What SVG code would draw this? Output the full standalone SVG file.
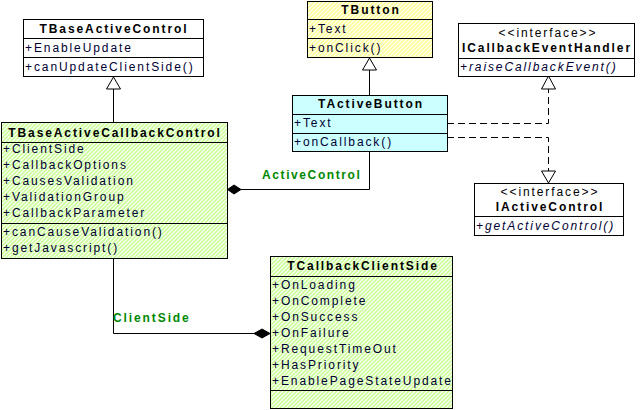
<svg xmlns="http://www.w3.org/2000/svg" width="640" height="410" viewBox="0 0 640 410">
<defs>
<pattern id="hg" width="4" height="4" patternUnits="userSpaceOnUse">
<rect width="4" height="4" fill="#ffffff"/>
<path d="M-1,5 L5,-1 M-1,1 L1,-1 M3,5 L5,3" stroke="#ccff99" stroke-width="1.6"/>
</pattern>
<pattern id="hy" width="4" height="4" patternUnits="userSpaceOnUse">
<rect width="4" height="4" fill="#ffffff"/>
<path d="M-1,5 L5,-1 M-1,1 L1,-1 M3,5 L5,3" stroke="#ffff99" stroke-width="1.6"/>
</pattern>
</defs>
<style>
text{font-family:"Liberation Sans",Arial,sans-serif;font-size:12px;letter-spacing:1.9px}
.t{font-weight:bold;text-anchor:middle;fill:#000000}
.m{fill:#000033}
.s{text-anchor:middle;fill:#000000}
.i{font-style:italic;fill:#000033}
.box{stroke:#000;stroke-width:1}
.ln{stroke:#000;stroke-width:1;fill:none}
.dash{stroke:#000;stroke-width:1;fill:none;stroke-dasharray:7,4}
.tri{fill:#fff;stroke:#000;stroke-width:1}
.dia{fill:#000;stroke:#000;stroke-width:1}
.lbl{font-weight:bold;fill:#008800}
</style>
<g id="connectors">
<path class="ln" d="M113.5,122 V89"/>
<polygon class="tri" points="113.5,77 106.5,89 120.5,89"/>
<path class="ln" d="M369.5,95 V70"/>
<polygon class="tri" points="369.5,58 362.5,70 376.5,70"/>
<path class="ln" d="M241,189.5 H369.5 V151"/>
<polygon class="dia" points="227.5,189.5 234,185 241,189.5 234,194"/>
<text class="lbl" x="262" y="179" style="letter-spacing:1.6px">ActiveControl</text>
<path class="dash" d="M447,123.5 H548.5 V89"/>
<polygon class="tri" points="548.5,76 541.5,89 555.5,89"/>
<path class="dash" d="M447,137.5 H548.5 V171"/>
<polygon class="tri" points="548.5,183 541.5,171 555.5,171"/>
<path class="ln" d="M113.5,258 V333.5 H254"/>
<polygon class="dia" points="270,333.5 262,329 254,333.5 262,338"/>
<text class="lbl" x="113" y="322">ClientSide</text>
</g>
<g id="TBaseActiveControl">
<rect class="box" x="23.5" y="19.5" width="180" height="57" fill="#ffffff"/>
<path class="ln" d="M23.5,38.5 H203.5 M23.5,57.5 H203.5"/>
<text class="t" x="114" y="33">TBaseActiveControl</text>
<text class="m" x="25" y="52">+EnableUpdate</text>
<text class="m" x="25" y="71">+canUpdateClientSide()</text>
</g>
<g id="TBaseActiveCallbackControl">
<rect class="box" x="1.5" y="122.5" width="226" height="136" fill="url(#hg)"/>
<path class="ln" d="M1.5,142.5 H227.5 M1.5,223.5 H227.5"/>
<text class="t" x="115" y="137">TBaseActiveCallbackControl</text>
<text class="m" x="3" y="153">+ClientSide</text>
<text class="m" x="3" y="169">+CallbackOptions</text>
<text class="m" x="3" y="185">+CausesValidation</text>
<text class="m" x="3" y="201">+ValidationGroup</text>
<text class="m" x="3" y="217">+CallbackParameter</text>
<text class="m" x="3" y="236">+canCauseValidation()</text>
<text class="m" x="3" y="252">+getJavascript()</text>
</g>
<g id="TButton">
<rect class="box" x="307.5" y="1.5" width="125" height="56" fill="url(#hy)"/>
<path class="ln" d="M307.5,19.5 H432.5 M307.5,38.5 H432.5"/>
<text class="t" x="371" y="14">TButton</text>
<text class="m" x="309" y="33">+Text</text>
<text class="m" x="309" y="52">+onClick()</text>
</g>
<g id="TActiveButton">
<rect class="box" x="292.5" y="95.5" width="155" height="56" fill="#ccffff"/>
<path class="ln" d="M292.5,114.5 H447.5 M292.5,133.5 H447.5"/>
<text class="t" x="371" y="108">TActiveButton</text>
<text class="m" x="294" y="127">+Text</text>
<text class="m" x="294" y="146">+onCallback()</text>
</g>
<g id="ICallbackEventHandler">
<rect class="box" x="458.5" y="23.5" width="176" height="53" fill="#ffffff"/>
<path class="ln" d="M458.5,58.5 H634.5"/>
<text class="s" x="548" y="37">&lt;&lt;interface&gt;&gt;</text>
<text class="t" x="547" y="52">ICallbackEventHandler</text>
<text class="i" x="460" y="71">+raiseCallbackEvent()</text>
</g>
<g id="IActiveControl">
<rect class="box" x="474.5" y="183.5" width="149" height="52" fill="#ffffff"/>
<path class="ln" d="M474.5,216.5 H623.5"/>
<text class="s" x="550" y="196">&lt;&lt;interface&gt;&gt;</text>
<text class="t" x="550" y="211">IActiveControl</text>
<text class="i" x="476" y="230">+getActiveControl()</text>
</g>
<g id="TCallbackClientSide">
<rect class="box" x="270.5" y="256.5" width="182" height="152" fill="url(#hg)"/>
<path class="ln" d="M270.5,276.5 H452.5 M270.5,390.5 H452.5"/>
<text class="t" x="363" y="270">TCallbackClientSide</text>
<text class="m" x="272" y="289">+OnLoading</text>
<text class="m" x="272" y="305">+OnComplete</text>
<text class="m" x="272" y="321">+OnSuccess</text>
<text class="m" x="272" y="337">+OnFailure</text>
<text class="m" x="272" y="353">+RequestTimeOut</text>
<text class="m" x="272" y="369">+HasPriority</text>
<text class="m" x="272" y="385">+EnablePageStateUpdate</text>
</g>
</svg>
